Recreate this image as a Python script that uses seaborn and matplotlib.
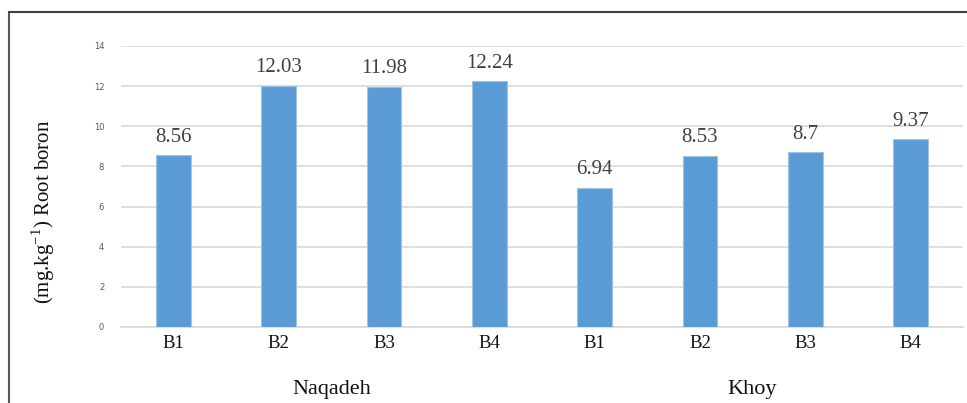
import matplotlib
matplotlib.use("Agg")
import matplotlib.pyplot as plt
from matplotlib.lines import Line2D
import seaborn as sns
import pandas as pd

sites = ["Naqadeh", "Khoy"]
levels = ["B1", "B2", "B3", "B4"]
naqadeh_values = [8.56, 12.03, 11.98, 12.24]
khoy_values = [6.94, 8.53, 8.7, 9.37]
value_labels = ["8.56", "12.03", "11.98", "12.24", "6.94", "8.53", "8.7", "9.37"]

rows = []
for site, vals in zip(sites, [naqadeh_values, khoy_values]):
    for lvl, v in zip(levels, vals):
        rows.append({"site": site, "level": lvl, "slot": f"{site} {lvl}", "boron": v})
df = pd.DataFrame(rows)

sns.set_theme(style="white")
serif = ["Liberation Serif", "DejaVu Serif"]

fig = plt.figure(figsize=(9.67, 4.03), dpi=100)
ax = fig.add_axes([0.125, 0.1886, 0.871, 0.6973])

sns.barplot(data=df, x="slot", y="boron", order=list(df["slot"]),
            color="#5B9BD5", saturation=1, width=0.33,
            edgecolor="#9DC3E6", linewidth=0.8, ax=ax, zorder=3)

ax.set_ylim(0, 14)
ax.set_xlim(-0.5, len(df) - 0.5)
ax.set_yticks(range(0, 15, 2))
ax.yaxis.grid(True, color="#D9D9D9", linewidth=1.2, zorder=0)
ax.set_axisbelow(True)
for s in ["top", "right", "left"]:
    ax.spines[s].set_visible(False)
ax.spines["bottom"].set_color("#D9D9D9")
ax.spines["bottom"].set_linewidth(1.2)

ax.tick_params(axis="y", length=0, labelsize=6, labelcolor="#595959", pad=12)
ax.tick_params(axis="x", length=0, pad=6)
ax.set_xticks(range(len(df)))
ax.set_xticklabels(list(df["level"]), family=serif, fontsize=13.5, color="#111111")
ax.set_xlabel("")
ax.set_ylabel("")

ax.bar_label(ax.containers[0], labels=value_labels, padding=6,
             family=serif, fontsize=15, color="#404040")

for i, site in enumerate(sites):
    ax.text(1.5 + 4 * i, -0.222, site, transform=ax.get_xaxis_transform(),
            ha="center", va="center", family=serif, fontsize=16, color="#111111")

fig.text(0.045, 0.474, r"(mg.kg$^{\mathregular{-1}}$) Root boron", rotation=90,
         ha="center", va="center", family=serif, fontsize=15, color="#111111")

# outer frame: left and top edges
fig.add_artist(Line2D([9 / 967, 9 / 967], [0, 1 - 12 / 403], color="#595959", linewidth=1.5))
fig.add_artist(Line2D([9 / 967, 1], [1 - 12 / 403, 1 - 12 / 403], color="#404040", linewidth=1.5))

fig.savefig("out.png", dpi=100)
